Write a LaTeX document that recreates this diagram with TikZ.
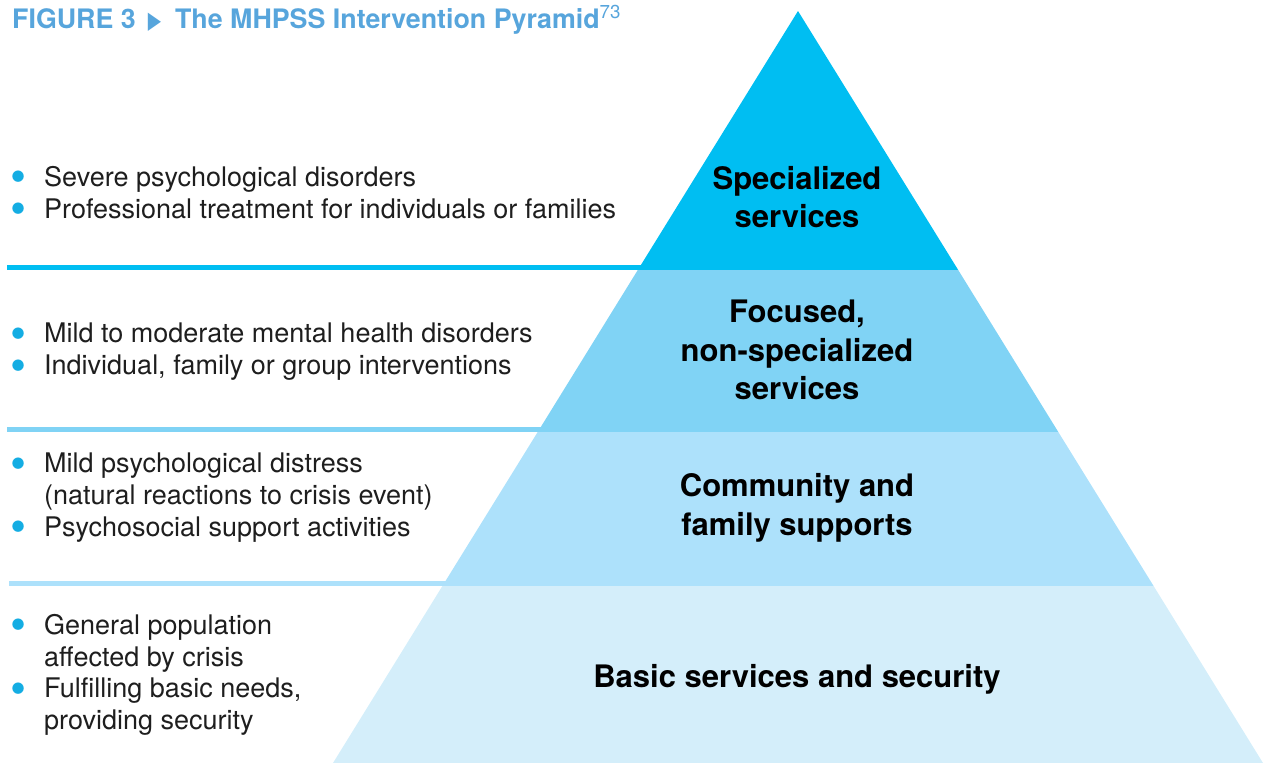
\documentclass[tikz,border=0pt]{standalone}
\usepackage{fontspec}
\setmainfont{TeX Gyre Heros}
\newfontfamily\symfont{DejaVu Sans}
\usepackage{graphicx}

\definecolor{tierA}{HTML}{00BEF2}
\definecolor{tierB}{HTML}{80D3F5}
\definecolor{tierC}{HTML}{ADE1FB}
\definecolor{tierD}{HTML}{D4EEFA}
\definecolor{titleblue}{HTML}{57A5DC}
\definecolor{bulletblue}{HTML}{14ADE3}
\definecolor{bodytext}{HTML}{1E1E1E}

\newcommand{\bul}{\llap{\textcolor{bulletblue}{\smash{\raisebox{-6.5pt}{\scalebox{1.7}{\textbullet}}}}\hspace{18pt}}}

\tikzset{
    tierlabel/.style={font=\fontsize{31}{38.5}\selectfont\bfseries, align=center, text=black, inner sep=0pt},
    items/.style={font=\fontsize{27}{31.7}\selectfont, align=left, anchor=north west, inner sep=0pt, text=bodytext},
    divider/.style={line width=5pt},
}

\begin{document}
\begin{tikzpicture}[x=1pt, y=-1pt]
    \useasboundingbox (0,0) rectangle (1270,763);

    % title
    \node[anchor=base west, inner sep=0pt, text=titleblue, font=\fontsize{26.8}{30}\selectfont\bfseries] (title) at (12,28)
        {FIGURE 3\hspace{12pt}{\symfont\fontsize{24}{24}\selectfont\scalebox{0.72}[1]{▶}}\hspace{14pt}The MHPSS Intervention Pyramid\textsuperscript{\mdseries 73}};

    % dividers to the left of the pyramid
    \draw[divider, tierA] (7,267.5) -- (660,267.5);
    \draw[divider, tierB] (7,429.5) -- (560,429.5);
    \draw[divider, tierC] (9,583.5) -- (470,583.5);

    % pyramid tiers
    \fill[tierA] (798,11) -- (958.2,270) -- (637.8,270) -- cycle;
    \fill[tierB] (637.8,270) -- (958.2,270) -- (1058.3,432) -- (537.7,432) -- cycle;
    \fill[tierC] (537.7,432) -- (1058.3,432) -- (1153.6,586) -- (442.4,586) -- cycle;
    \fill[tierD] (442.4,586) -- (1153.6,586) -- (1263,763) -- (333,763) -- cycle;

    % tier labels
    \node[tierlabel] (spec) at (797,197) {Specialized\\services};
    \node[tierlabel] (focus) at (797,350) {Focused,\\non-specialized\\services};
    \node[tierlabel] (comm) at (797,508) {Community and\\family supports};
    \node[tierlabel] (basic) at (797,679) {Basic services and security};

    % bullet lists
    \node[items] (specitems) at (44,166) {\bul Severe psychological disorders\\\bul Professional treatment for individuals or families};
    \node[items] (focusitems) at (44,323) {\bul Mild to moderate mental health disorders\\\bul Individual, family or group interventions};
    \node[items] (commitems) at (44,453) {\bul Mild psychological distress\\(natural reactions to crisis event)\\\bul Psychosocial support activities};
    \node[items] (basicitems) at (44,614) {\bul General population\\affected by crisis\\\bul Fulfilling basic needs,\\providing security};
\end{tikzpicture}
\end{document}
